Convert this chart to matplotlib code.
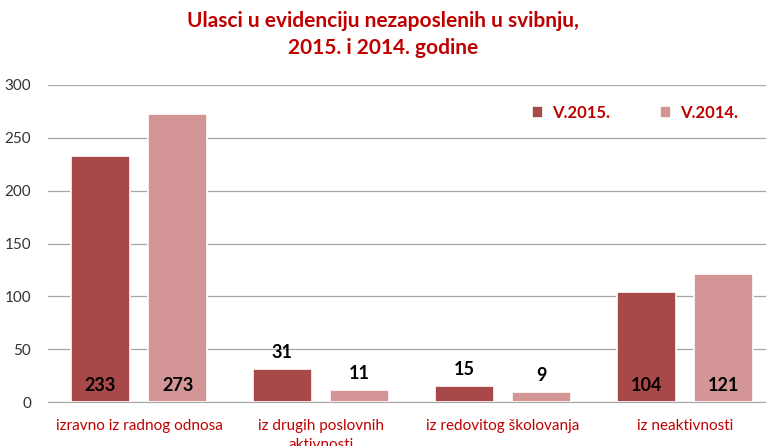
import matplotlib.pyplot as plt
import numpy as np

kategorije = ['izravno iz radnog odnosa', 'iz drugih poslovnih\naktivnosti',
              'iz redovitog školovanja', 'iz neaktivnosti']
v2015 = [233, 31, 15, 104]
v2014 = [273, 11, 9, 121]
serije = ['V.2015.', 'V.2014.']

boja_2015 = '#A84848'
boja_2014 = '#D39595'
crvena = '#C00000'

plt.rcParams['font.family'] = ['Lato', 'DejaVu Sans']

fig = plt.figure(figsize=(7.66, 4.46), dpi=100)
ax = fig.add_axes([48 / 766, 44 / 446, 728 / 766, 317 / 446])

x = np.arange(len(kategorije))
sirina = 0.325
pomak = 0.212

b1 = ax.bar(x - pomak, v2015, sirina, color=boja_2015, edgecolor='white', linewidth=1.2,
            label=serije[0], zorder=3)
b2 = ax.bar(x + pomak, v2014, sirina, color=boja_2014, edgecolor='white', linewidth=1.2,
            label=serije[1], zorder=3)

# oznake vrijednosti: unutar visokih stupaca pri dnu, iznad niskih
for stupci, vrijednosti in [(b1, v2015), (b2, v2014)]:
    for s, v in zip(stupci, vrijednosti):
        xc = s.get_x() + s.get_width() / 2
        if v > 50:
            ax.text(xc, 16, str(v), ha='center', va='center', fontsize=13,
                    fontweight='bold', color='black', zorder=4)
        else:
            ax.text(xc, v + 8, str(v), ha='center', va='bottom', fontsize=13,
                    fontweight='bold', color='black', zorder=4)

ax.set_xlim(-0.5, 3.5)
ax.set_ylim(0, 300)
ax.set_yticks([0, 50, 100, 150, 200, 250, 300])
ax.yaxis.grid(True, color='#A6A6A6', linewidth=0.9, zorder=0)
ax.set_axisbelow(True)
for sp in ['top', 'right', 'left']:
    ax.spines[sp].set_visible(False)
ax.spines['bottom'].set_color('#A6A6A6')
ax.tick_params(axis='y', length=0, labelsize=11, colors='#333333', pad=12)
ax.tick_params(axis='x', length=0, pad=12)
ax.set_xticks(x)
ax.set_xticklabels(kategorije, fontsize=11, color=crvena, va='top', linespacing=1.5)

fig.text(0.5, 0.975, 'Ulasci u evidenciju nezaposlenih u svibnju,\n2015. i 2014. godine',
         ha='center', va='top', fontsize=15, fontweight='bold', color=crvena,
         linespacing=1.4)

leg = ax.legend(loc='upper right', bbox_to_anchor=(0.968, 0.985), ncol=2, frameon=False,
                fontsize=12, handlelength=0.7, handleheight=0.7, columnspacing=3.0,
                handletextpad=0.5)
for t in leg.get_texts():
    t.set_color(crvena)
    t.set_fontweight('bold')

fig.savefig('out.png', dpi=100)
